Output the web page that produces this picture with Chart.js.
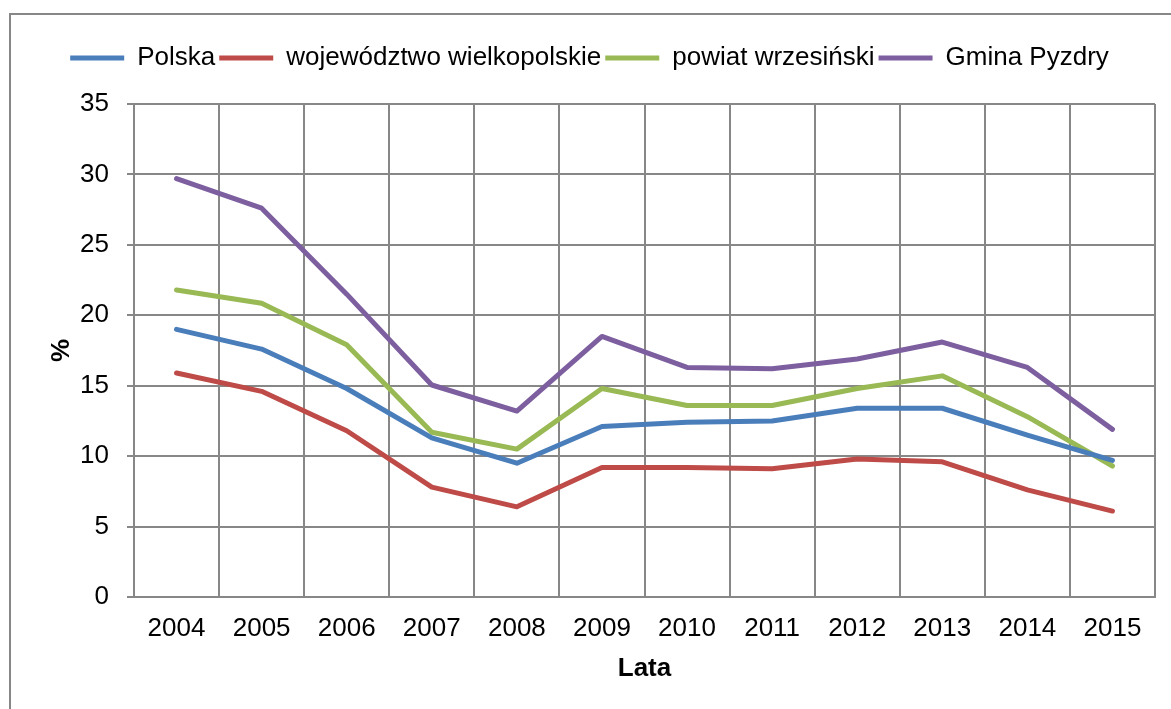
<!DOCTYPE html>
<html>
<head>
<meta charset="utf-8">
<script src="https://cdn.jsdelivr.net/npm/chart.js@4"></script>
<style>
  body { margin: 0; background: #fff; }
  canvas { display: block; }
</style>
</head>
<body>
<canvas id="wykres" width="1171" height="709"></canvas>
<script>
const lata = ['2004', '2005', '2006', '2007', '2008', '2009', '2010', '2011', '2012', '2013', '2014', '2015'];
const polska = [19.0, 17.6, 14.8, 11.3, 9.5, 12.1, 12.4, 12.5, 13.4, 13.4, 11.5, 9.7];
const wielkopolskie = [15.9, 14.6, 11.8, 7.8, 6.4, 9.2, 9.2, 9.1, 9.8, 9.6, 7.6, 6.1];
const wrzesinski = [21.8, 20.85, 17.9, 11.7, 10.5, 14.8, 13.6, 13.6, 14.8, 15.7, 12.8, 9.3];
const pyzdry = [29.7, 27.6, 21.5, 15.05, 13.2, 18.5, 16.3, 16.2, 16.9, 18.1, 16.3, 11.9];

const szary = '#878787';
const czcionka = { family: '"Liberation Sans", Arial, sans-serif', size: 26 };

const seria = (label, data, kolor) => ({
  label: label,
  data: data,
  borderColor: kolor,
  backgroundColor: kolor,
  borderWidth: 5,
  borderCapStyle: 'round',
  borderJoinStyle: 'round',
  pointRadius: 0,
  tension: 0
});

// ramka wokol wykresu (widoczna tylko gora i lewa strona)
const ramka = {
  id: 'ramka',
  beforeDraw(chart) {
    const ctx = chart.ctx;
    ctx.save();
    ctx.strokeStyle = szary;
    ctx.lineWidth = 2;
    ctx.beginPath();
    ctx.moveTo(10, 709);
    ctx.lineTo(10, 14);
    ctx.lineTo(1171, 14);
    ctx.stroke();
    ctx.restore();
  }
};

// legenda: stala wysokosc i lekkie przesuniecie w prawo
const legendaUklad = {
  id: 'legendaUklad',
  beforeInit(chart) {
    const fit = chart.legend.fit;
    chart.legend.fit = function () {
      fit.call(this);
      this.height = 63;
    };
  },
  afterLayout(chart) {
    chart.legend.left += 12;
    chart.legend.right += 12;
  }
};

new Chart(document.getElementById('wykres'), {
  type: 'line',
  data: {
    labels: lata,
    datasets: [
      seria('Polska', polska, '#4a7ebb'),
      seria('województwo wielkopolskie', wielkopolskie, '#be4b48'),
      seria('powiat wrzesiński', wrzesinski, '#98b954'),
      seria('Gmina Pyzdry', pyzdry, '#7d5fa0')
    ]
  },
  options: {
    responsive: false,
    animation: false,
    layout: { padding: { top: 41, right: 16, bottom: 0, left: 0 } },
    plugins: {
      legend: {
        position: 'top',
        labels: {
          color: '#000',
          font: czcionka,
          usePointStyle: true,
          pointStyle: 'line',
          pointStyleWidth: 54,
          padding: 4
        }
      },
      tooltip: { enabled: false }
    },
    scales: {
      x: {
        offset: true,
        grid: { offset: true, color: szary, lineWidth: 2, drawTicks: false },
        border: { color: szary, width: 2 },
        ticks: { color: '#000', font: czcionka, padding: 16, maxRotation: 0 },
        title: {
          display: true,
          text: 'Lata',
          color: '#000',
          font: Object.assign({}, czcionka, { weight: 'bold' }),
          padding: { top: 0, bottom: 25 }
        },
        afterFit(s) { s.height = 112; }
      },
      y: {
        min: 0,
        max: 35,
        ticks: { stepSize: 5, color: '#000', font: czcionka, padding: 18 },
        grid: { color: szary, lineWidth: 2, tickLength: 7 },
        border: { color: szary, width: 2 },
        title: {
          display: true,
          text: '%',
          color: '#000',
          font: Object.assign({}, czcionka, { weight: 'bold' }),
          padding: { top: 46, bottom: 0 }
        },
        afterFit(s) { s.width = 134; }
      }
    }
  },
  plugins: [ramka, legendaUklad]
});
</script>
</body>
</html>
